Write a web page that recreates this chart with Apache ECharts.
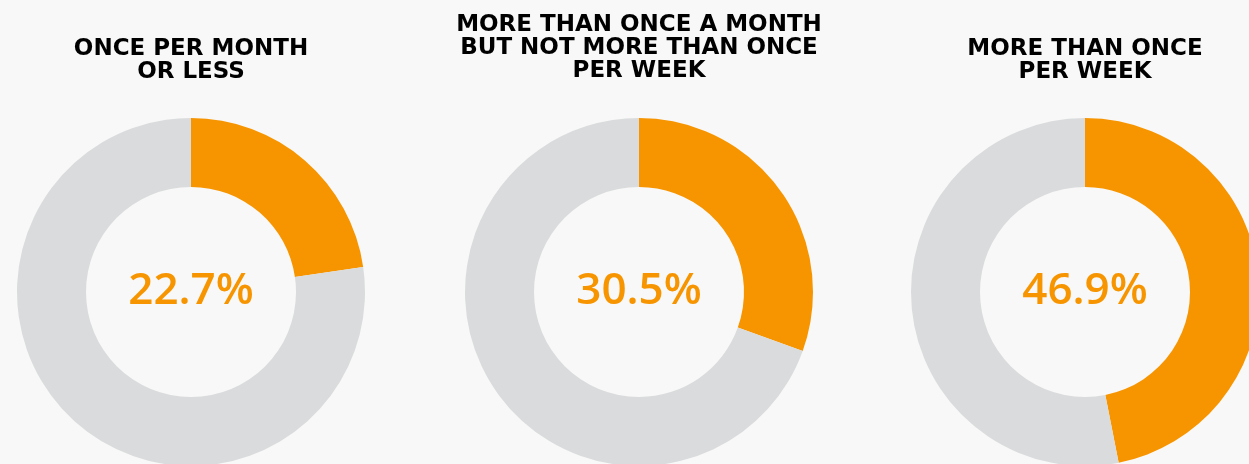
<!DOCTYPE html>
<html>
<head>
<meta charset="utf-8">
<script src="https://cdn.jsdelivr.net/npm/echarts@6/dist/echarts.min.js"></script>
<style>
html,body{margin:0;padding:0;background:#f8f8f8;}
#chart{width:1249px;height:464px;}
</style>
</head>
<body>
<div id="chart"></div>
<script>
const categories = [
  "ONCE PER MONTH\nOR LESS",
  "MORE THAN ONCE A MONTH\nBUT NOT MORE THAN ONCE\nPER WEEK",
  "MORE THAN ONCE\nPER WEEK"
];
const shares = [22.7, 30.5, 46.9];
const centersX = [191, 639, 1085];
const centerY = 292;
const titleTops = [38, 14, 38];

const chart = echarts.init(document.getElementById('chart'), null, {renderer: 'canvas'});
const series = [];
const titles = [];
categories.forEach((c, i) => {
  series.push({
    type: 'pie',
    silent: true,
    center: [centersX[i], centerY],
    radius: [105, 174],
    startAngle: 90,
    clockwise: true,
    label: {show: false},
    labelLine: {show: false},
    emphasis: {disabled: true},
    data: [
      {value: shares[i], itemStyle: {color: '#f79500'}},
      {value: +(100 - shares[i]).toFixed(1), itemStyle: {color: '#dadbdc'}}
    ]
  });
  titles.push({
    text: c,
    left: centersX[i],
    top: titleTops[i],
    padding: 0,
    textAlign: 'center',
    textStyle: {fontFamily: 'DejaVu Sans', fontWeight: 'bold', fontSize: 23, lineHeight: 23, color: '#000'}
  });
  titles.push({
    text: shares[i].toFixed(1) + '%',
    left: centersX[i],
    top: centerY - 23,
    padding: 0,
    textAlign: 'center',
    textStyle: {fontFamily: 'Open Sans', fontWeight: 600, fontSize: 44, color: '#f79500'}
  });
});
chart.setOption({
  backgroundColor: '#f8f8f8',
  animation: false,
  title: titles,
  series: series
});
</script>
</body>
</html>
